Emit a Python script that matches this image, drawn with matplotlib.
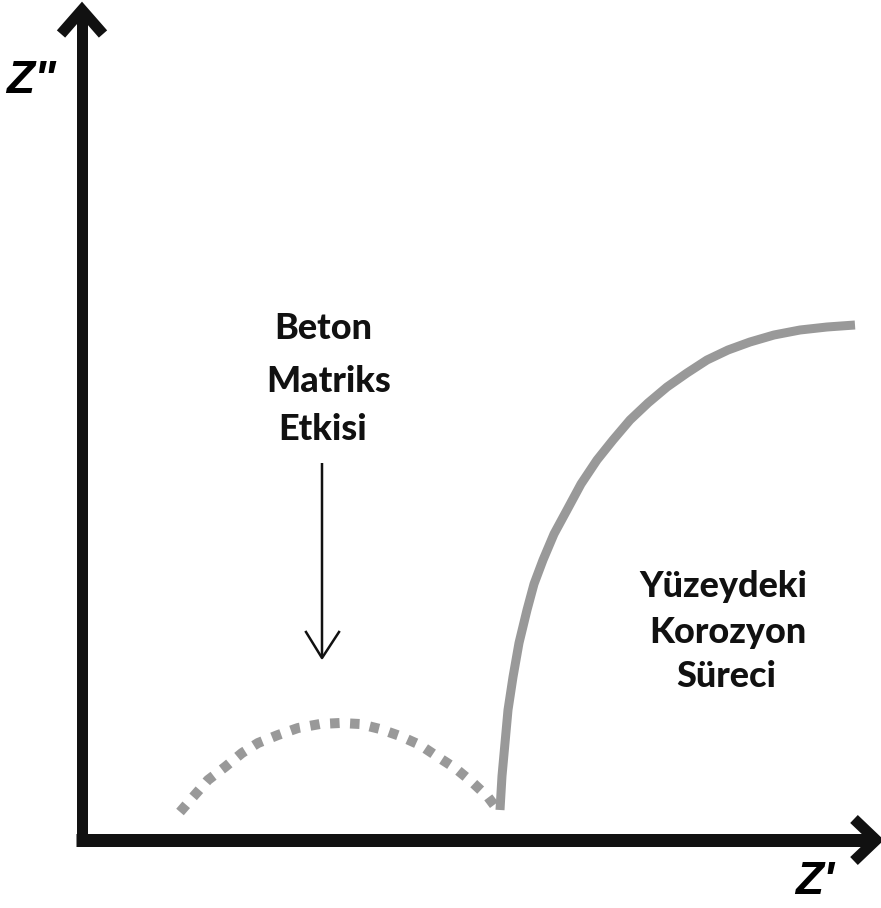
import matplotlib
matplotlib.use("Agg")
import matplotlib.pyplot as plt
from matplotlib.lines import Line2D

# Nyquist sketch, origin at the axis corner (arbitrary impedance units)
beton_re = [98, 111, 126, 143, 160, 176, 196, 216, 238, 258, 278, 298, 318, 338, 356, 373, 390, 406, 412]
beton_im = [28, 43, 60, 73, 87, 97, 105, 112, 116, 117, 116, 111, 104, 95, 83, 72, 58, 43, 35]

kor_re = [418, 420, 423, 426, 431, 437, 445, 452, 461, 472, 485, 499, 515, 531, 548, 566, 585, 605, 625, 646, 668, 692, 718, 745, 773]
kor_im = [30, 64, 97, 130, 163, 197, 230, 256, 280, 306, 330, 356, 380, 400, 420, 437, 453, 467, 480, 490, 498, 505, 510, 513, 515]

GRAY = "#999999"
BLACK = "#111111"
PX = 72 / 100  # points per pixel at dpi 100

fig = plt.figure(figsize=(8.81, 9.08), dpi=100)
ax = fig.add_axes([0, 0, 1, 1])
ax.set_xlim(-82, 799)
ax.set_ylim(-68, 840)
ax.axis("off")

def seg(pts, lw, color=BLACK):
    ax.add_line(Line2D([p[0] for p in pts], [p[1] for p in pts], color=color, lw=lw * PX,
                       solid_capstyle="butt", solid_joinstyle="miter", zorder=5))

# axes with chevron heads
seg([(0, -6), (0, 830)], 11)
seg([(-21, 806), (0, 830), (21, 806)], 11)
seg([(-6, 0), (792, 0)], 13)
seg([(772, 21), (794, 0), (772, -21)], 11)

ax.text(-76, 759, 'Z"', fontsize=46 * PX, fontweight="bold", fontstyle="italic",
        family="Liberation Sans", ha="left", va="center")
ax.text(733, -42, "Z'", fontsize=46 * PX, fontweight="bold", fontstyle="italic",
        family="Liberation Sans", ha="center", va="center")

# curves
ax.plot(beton_re, beton_im, color=GRAY, lw=10 * PX, linestyle=(0, (0.95, 1.05)),
        dash_capstyle="butt", zorder=3)
ax.plot(kor_re, kor_im, color=GRAY, lw=9 * PX, solid_capstyle="butt", zorder=3)

# thin arrow
seg([(240, 377), (240, 183)], 2.5)
ax.add_line(Line2D([224, 240, 257], [208, 182, 208], color=BLACK, lw=2.5 * PX, zorder=5))

tk = dict(fontsize=36 * PX, fontweight=900, family="Lato", ha="center", va="baseline", color=BLACK)
for t, x, y in [("Beton", 241, 501), ("Matriks", 247, 448), ("Etkisi", 241, 400),
                ("Yüzeydeki", 641, 243), ("Korozyon", 646, 197), ("Süreci", 644, 153)]:
    ax.text(x, y, t, **tk)

fig.savefig("out.png", dpi=100)
